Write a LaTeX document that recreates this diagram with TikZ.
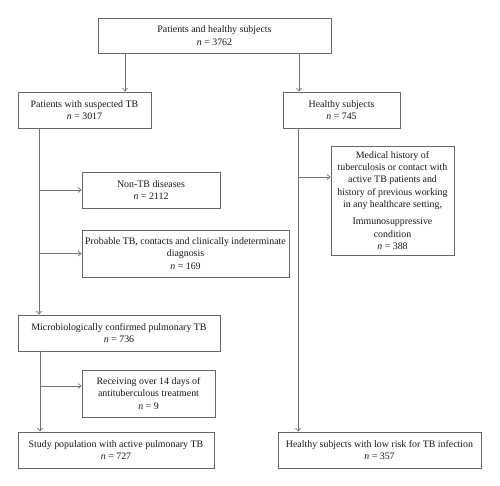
\documentclass[tikz,border=0pt]{standalone}
\usepackage{fontspec}
\setmainfont{Liberation Serif}
\usetikzlibrary{arrows.meta}
\begin{document}
\begin{tikzpicture}[x=1pt,y=-1pt,
  box/.style={draw=black!60,line width=0.9pt,align=center,inner sep=1pt,
    font=\fontsize{9.9}{12.3}\selectfont,text=black!90},
  arr/.style={draw=black!55,line width=0.9pt,-{Straight Barb[length=3pt,width=5pt,line width=0.7pt]}},
  ln/.style={draw=black!55,line width=0.9pt}]
\useasboundingbox[fill=white] (0,0) rectangle (500,486);
\node[box,minimum width=233pt,minimum height=35pt] (top) at (214.5,35.5)
  {Patients and healthy subjects\\\textit{n} = 3762};
\node[box,minimum width=133pt,minimum height=36pt] (susp) at (84.5,110)
  {Patients with suspected TB\\\textit{n} = 3017};
\node[box,minimum width=117pt,minimum height=36pt] (healthy) at (341.5,110)
  {Healthy subjects\\\textit{n} = 745};
\node[box,minimum width=138pt,minimum height=36pt] (nontb) at (151,190)
  {Non-TB diseases\\\textit{n} = 2112};
\node[box,minimum width=207pt,minimum height=47pt] (prob) at (185.5,253.5)
  {Probable TB, contacts and clinically indeterminate\\diagnosis\\\textit{n} = 169};
\node[box,minimum width=123pt,minimum height=109pt] (med) at (392.5,200.5)
  {Medical history of\\tuberculosis or contact with\\active TB patients and\\history of previous working\\in any healthcare setting,\\[5pt]
   Immunosuppressive\\condition\\\textit{n} = 388};
\node[box,minimum width=202pt,minimum height=36pt] (micro) at (119,333)
  {Microbiologically confirmed pulmonary TB\\\textit{n} = 736};
\node[box,minimum width=133pt,minimum height=47pt] (recv) at (148.5,393.5)
  {Receiving over 14 days of\\antituberculous treatment\\\textit{n} = 9};
\node[box,minimum width=196pt,minimum height=36pt] (study) at (116,450)
  {Study population with active pulmonary TB\\\textit{n} = 727};
\node[box,minimum width=203pt,minimum height=36pt] (low) at (379.5,450)
  {Healthy subjects with low risk for TB infection\\\textit{n} = 357};
% x positions
\coordinate (xl) at (125,0);
\coordinate (xr) at (299,0);
\coordinate (sp1) at (39,0);
\coordinate (sp2) at (40,0);
\coordinate (sp3) at (298,0);
\coordinate (mh) at (298,177);
\coordinate (rv) at (40,386);
% connectors
\draw[arr] (xl |- top.south) -- (xl |- susp.north);
\draw[arr] (xr |- top.south) -- (xr |- healthy.north);
\draw[arr] (sp1 |- susp.south) -- (sp1 |- micro.north);
\draw[arr] (sp1 |- nontb.west) -- (nontb.west);
\draw[arr] (sp1 |- prob.west) -- (prob.west);
\draw[arr] (sp3 |- healthy.south) -- (sp3 |- low.north);
\draw[arr] (mh) -- (mh -| med.west);
\draw[arr] (sp2 |- micro.south) -- (sp2 |- study.north);
\draw[arr] (rv) -- (rv -| recv.west);
\end{tikzpicture}
\end{document}
